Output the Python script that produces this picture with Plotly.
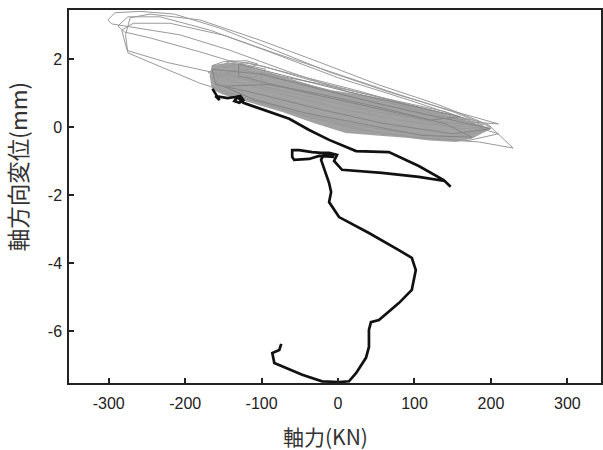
import plotly.graph_objects as go

# ---- tick labels ----
x_tickvals = [-300, -200, -100, 0, 100, 200, 300]
x_ticktext = ["-300", "-200", "-100", "0", "100", "200", "300"]
y_tickvals = [2, 0, -2, -4, -6]
y_ticktext = ["2", "0", "-2", "-4", "-6"]

x_title = "軸力(KN)"
y_title = "軸方向変位(mm)"

# ---- gray cyclic loading loops (axial force kN, axial displacement mm) ----
band_x = [-168, -165, -138, -115, -94, -51, -8, 30, 66, 100, 132, 160, 180, 200,
          175, 154, 120, 89, 50, 10, -30, -73, -100, -125, -150, -165, -168]
band_y = [1.50, 1.82, 1.90, 1.75, 1.60, 1.32, 1.08, 0.95, 0.80, 0.60, 0.42, 0.25, 0.10, -0.05,
          -0.35, -0.44, -0.40, -0.32, -0.25, -0.18, 0.10, 0.44, 0.62, 0.79, 0.95, 1.10, 1.50]

loop1_x = [-301, -292, -259, -214, -155, -90, -12, 66, 145, 210, 171, 93, 14, -64, -142, -207, -259, -296, -301]
loop1_y = [3.15, 3.36, 3.40, 3.32, 2.91, 2.32, 1.62, 1.03, 0.50, 0.09, 0.15, 0.56, 1.03, 1.62, 2.26, 2.71, 2.91, 3.03, 3.15]

loop2_x = [-272, -246, -181, -103, -25, 53, 132, 197, 229, 184, 120, 60, 0, -60, -120, -181, -230, -275, -278, -272]
loop2_y = [3.21, 3.32, 3.15, 2.56, 1.91, 1.24, 0.65, 0.06, -0.62, -0.44, -0.35, -0.20, 0.10, 0.45, 0.85, 1.29, 1.75, 2.18, 2.71, 3.21]

loop3_x = [-288, -275, -233, -168, -90, 1, 93, 171, 132, 53, -25, -103, -181, -246, -279, -288]
loop3_y = [2.97, 3.24, 3.24, 2.85, 2.21, 1.44, 0.79, 0.21, 0.26, 0.68, 1.15, 1.68, 2.21, 2.62, 2.79, 2.97]

loop4_x = [-283, -268, -220, -150, -80, 0, 80, 150, 200, 160, 90, 20, -50, -120, -168, -224, -276, -283]
loop4_y = [2.85, 3.05, 3.05, 2.70, 2.15, 1.55, 0.95, 0.45, 0.00, -0.05, 0.30, 0.70, 1.05, 1.40, 1.62, 1.90, 2.25, 2.85]

loop5_x = [-170, -140, -100, -40, 40, 120, 185, 150, 80, 0, -70, -130, -170]
loop5_y = [1.60, 1.95, 1.80, 1.40, 0.95, 0.50, 0.15, 0.00, 0.20, 0.55, 0.95, 1.30, 1.60]

loop6_x = [-160, -150, -120, -60, 20, 100, 170, 195, 150, 80, 10, -60, -120, -160]
loop6_y = [1.30, 1.75, 1.90, 1.55, 1.10, 0.60, 0.20, -0.10, -0.30, -0.15, 0.10, 0.50, 0.90, 1.30]

loop7_x = [-150, -165, -130, -70, 0, 80, 150, 210, 170, 100, 30, -40, -100, -150]
loop7_y = [1.00, 1.45, 1.70, 1.40, 1.00, 0.55, 0.20, -0.20, -0.40, -0.30, -0.10, 0.30, 0.70, 1.00]

loop8_x = [-165, -150, -120, -105, -130, -160, -165]
loop8_y = [1.80, 1.92, 1.95, 1.85, 1.60, 1.50, 1.80]

loop9_x = [-140, -125, -95, -110, -140]
loop9_y = [1.50, 1.85, 1.70, 1.45, 1.50]

loop10_x = [-100, -20, 60, 140, 190, 130, 60, -20, -100, -100]
loop10_y = [1.60, 1.25, 0.85, 0.45, 0.05, 0.15, 0.40, 0.80, 1.20, 1.60]

loop11_x = [-165, -100, -30, 50, 130, 200, 150, 60, -20, -100, -160, -165]
loop11_y = [1.70, 1.55, 1.15, 0.70, 0.30, -0.05, -0.20, 0.10, 0.50, 0.95, 1.25, 1.70]

loop12_x = [-150, -90, -20, 60, 140, 175, 110, 40, -40, -110, -150]
loop12_y = [1.20, 1.25, 0.95, 0.55, 0.10, -0.30, -0.25, 0.05, 0.40, 0.80, 1.20]

loop13_x = [-130, -70, 10, 90, 160, 120, 40, -40, -130, -130]
loop13_y = [1.85, 1.50, 1.05, 0.65, 0.30, 0.20, 0.60, 1.00, 1.50, 1.85]

# ---- black final path ----
black_x = [-164.3, -155.1, -160.4, -144.7, -134.3, -127.8, -123.9, -129.1, -135.6, -131.7, -123.9,
           -96.5, -63.9, -37.8, -11.7, 23.5, 66.5, 105.6, 138.2, 147.3, 139.5, 105.6, 57.4, 5.2,
           -5.2, -1.3, -11.7, -22.2, -33.9, -50.8, -60.0, -60.0, -57.4, -37.8, -24.8, -5.2, -18.3,
           -22.2, -16.9, -11.7, -9.1, -11.7, 1.3, 40.4, 79.5, 96.5, 101.7, 96.5, 79.5, 53.5, 43.0,
           40.4, 40.4, 36.5, 23.5, 14.3, 1.3, -20.9, -46.9, -63.9, -83.4, -86.0, -76.9, -74.3]
black_y = [1.12, 0.79, 0.91, 0.85, 0.88, 0.91, 0.79, 0.71, 0.76, 0.88, 0.71,
           0.50, 0.24, -0.09, -0.38, -0.71, -0.74, -1.15, -1.56, -1.76, -1.59, -1.47, -1.35, -1.26,
           -1.00, -0.82, -0.76, -0.76, -0.74, -0.68, -0.68, -0.88, -0.97, -0.94, -0.85, -0.88, -0.79,
           -0.97, -1.32, -1.65, -1.91, -2.21, -2.65, -3.12, -3.62, -3.85, -4.21, -4.79, -5.18, -5.68, -5.74,
           -5.97, -6.47, -6.79, -7.24, -7.48, -7.50, -7.48, -7.29, -7.12, -6.94, -6.65, -6.56, -6.38]

fig = go.Figure()

fig.add_trace(go.Scatter(x=band_x, y=band_y, mode="lines", fill="toself",
                         fillcolor="#a2a2a2", line=dict(width=0), hoverinfo="skip"))

outer_loops = [(loop1_x, loop1_y), (loop2_x, loop2_y), (loop3_x, loop3_y), (loop4_x, loop4_y),
               (loop5_x, loop5_y), (loop6_x, loop6_y), (loop7_x, loop7_y), (loop8_x, loop8_y),
               (loop9_x, loop9_y), (loop10_x, loop10_y)]
for lx, ly in outer_loops:
    fig.add_trace(go.Scatter(x=lx, y=ly, mode="lines",
                             line=dict(color="#9a9a9a", width=1)))

inner_loops = [(loop11_x, loop11_y), (loop12_x, loop12_y), (loop13_x, loop13_y)]
for lx, ly in inner_loops:
    fig.add_trace(go.Scatter(x=lx, y=ly, mode="lines",
                             line=dict(color="#858585", width=1)))

fig.add_trace(go.Scatter(x=black_x, y=black_y, mode="lines",
                         line=dict(color="#111111", width=2.7)))

axis_common = dict(showline=True, linecolor="#222222", linewidth=1.5, mirror=True,
                   ticks="inside", ticklen=5, tickwidth=1.5, tickcolor="#222222",
                   showgrid=False, zeroline=False, tickmode="array",
                   tickfont=dict(family="Liberation Sans, Arial", size=16, color="#222222"))

fig.update_xaxes(range=[-352, 344], tickvals=x_tickvals, ticktext=x_ticktext,
                 ticklabelstandoff=5, **axis_common)
fig.update_yaxes(range=[-7.53, 3.44], tickvals=y_tickvals, ticktext=y_ticktext,
                 ticklabelstandoff=2, **axis_common)

fig.update_layout(
    width=603, height=450,
    margin=dict(l=69, r=0, t=10, b=67),
    plot_bgcolor="white", paper_bgcolor="white",
    showlegend=False,
    annotations=[
        dict(text=x_title, xref="paper", yref="paper", x=0.483, y=-0.142,
             xanchor="center", yanchor="middle", showarrow=False,
             font=dict(family="Noto Sans CJK JP", size=21, color="#333333")),
        dict(text=y_title, xref="paper", yref="paper", x=-0.0974, y=0.579,
             xanchor="center", yanchor="middle", showarrow=False, textangle=-90,
             font=dict(family="Noto Sans CJK JP", size=22.5, color="#333333")),
    ],
)

fig.write_html("out.html")
